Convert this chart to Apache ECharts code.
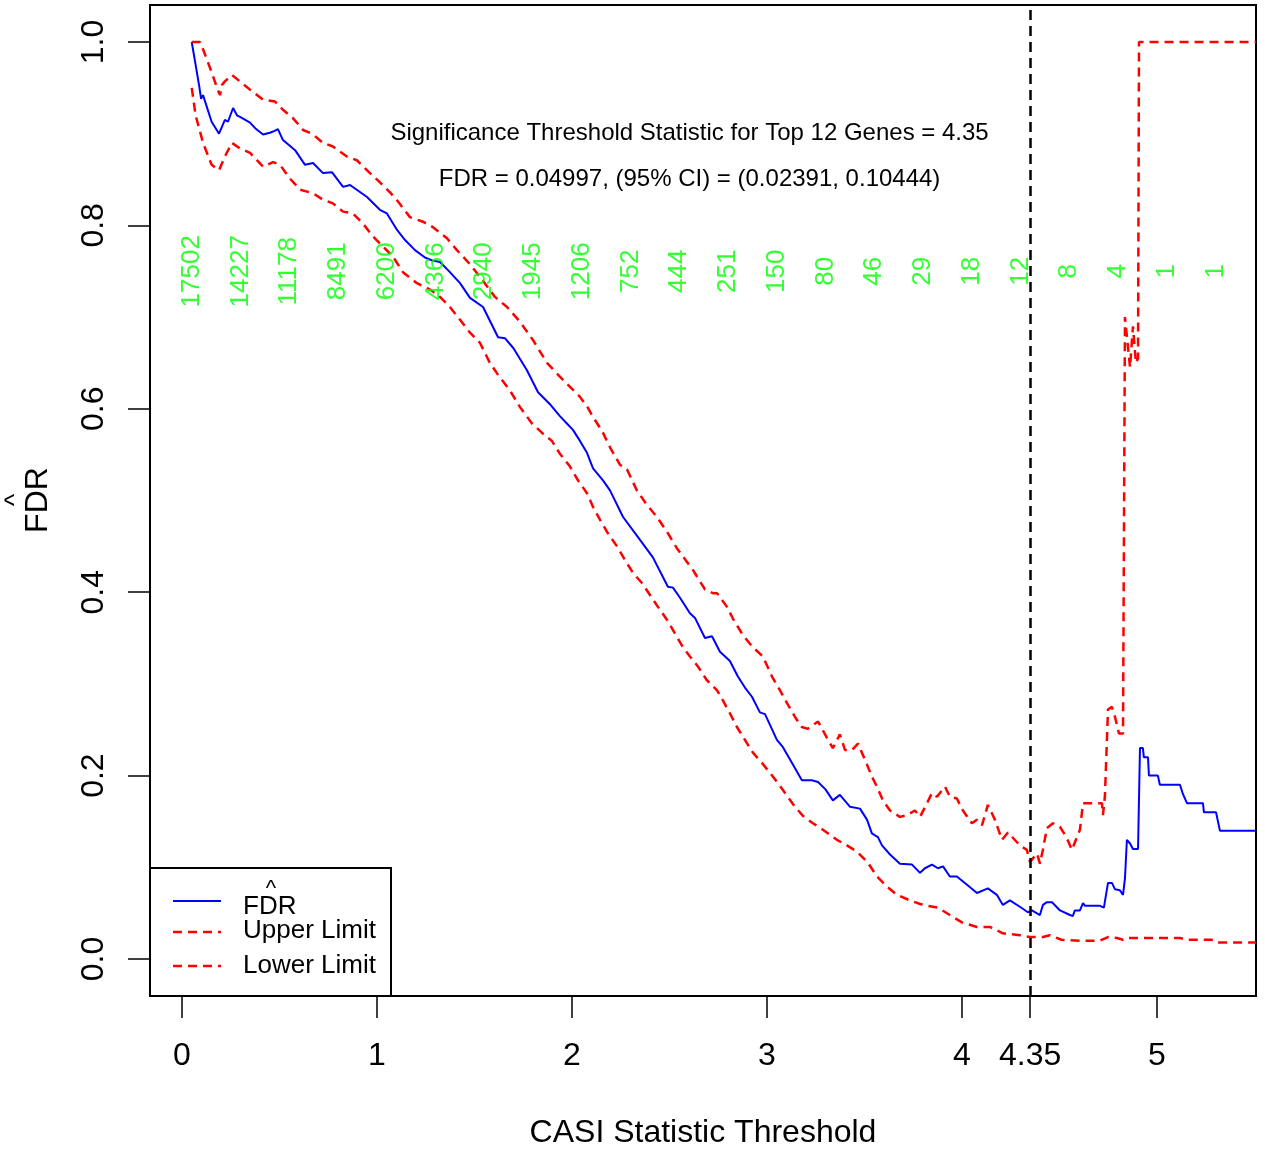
<!DOCTYPE html>
<html>
<head>
<meta charset="utf-8">
<script src="https://cdn.jsdelivr.net/npm/echarts@6/dist/echarts.min.js"></script>
<style>html,body{margin:0;padding:0;background:#fff}#c{width:1265px;height:1151px}</style>
</head>
<body>
<div id="c"></div>
<script>
// ---- data ----
const fdrX = [0.05,0.07,0.089,0.098,0.108,0.152,0.19,0.22,0.236,0.262,0.282,0.30,0.349,0.38,0.416,0.451,0.475,0.492,0.518,0.58,0.631,0.672,0.723,0.769,0.826,0.862,0.949,1.015,1.051,1.103,1.144,1.195,1.246,1.28,1.323,1.374,1.426,1.477,1.544,1.621,1.656,1.70,1.769,1.826,1.887,1.938,1.974,2.005,2.041,2.077,2.108,2.159,2.195,2.262,2.349,2.415,2.492,2.518,2.554,2.605,2.631,2.682,2.718,2.759,2.810,2.851,2.887,2.923,2.964,2.990,3.051,3.082,3.133,3.179,3.23,3.262,3.30,3.338,3.374,3.41,3.426,3.477,3.513,3.538,3.569,3.59,3.631,3.682,3.744,3.785,3.81,3.846,3.877,3.903,3.938,3.974,4.026,4.077,4.133,4.179,4.21,4.246,4.297,4.338,4.359,4.40,4.415,4.436,4.462,4.503,4.554,4.569,4.579,4.605,4.621,4.631,4.708,4.728,4.749,4.769,4.785,4.810,4.826,4.836,4.846,4.862,4.877,4.903,4.913,4.928,4.933,4.954,4.959,5.005,5.015,5.118,5.133,5.154,5.236,5.241,5.303,5.323,5.508];
const fdrY = [1.000,0.975,0.951,0.938,0.942,0.913,0.900,0.915,0.913,0.928,0.920,0.918,0.912,0.905,0.899,0.901,0.903,0.905,0.893,0.882,0.866,0.868,0.857,0.858,0.842,0.844,0.831,0.817,0.813,0.795,0.784,0.773,0.765,0.762,0.760,0.749,0.737,0.721,0.711,0.678,0.677,0.666,0.642,0.618,0.605,0.592,0.584,0.577,0.565,0.552,0.535,0.522,0.511,0.482,0.457,0.438,0.406,0.405,0.394,0.377,0.372,0.350,0.352,0.335,0.325,0.308,0.296,0.286,0.269,0.267,0.239,0.231,0.212,0.195,0.195,0.193,0.185,0.173,0.179,0.170,0.166,0.164,0.152,0.137,0.133,0.124,0.114,0.104,0.103,0.094,0.099,0.103,0.099,0.101,0.090,0.090,0.081,0.072,0.077,0.070,0.059,0.064,0.057,0.051,0.053,0.048,0.059,0.062,0.062,0.053,0.048,0.047,0.053,0.053,0.061,0.058,0.058,0.056,0.083,0.083,0.076,0.075,0.070,0.088,0.130,0.126,0.120,0.120,0.230,0.230,0.220,0.220,0.200,0.200,0.190,0.190,0.180,0.170,0.170,0.160,0.160,0.140,0.140];

const upperX = [0.05,0.092,0.11,0.152,0.18,0.195,0.205,0.22,0.256,0.297,0.349,0.416,0.477,0.518,0.569,0.621,0.667,0.723,0.774,0.846,0.897,0.964,1.015,1.067,1.108,1.169,1.236,1.287,1.359,1.41,1.467,1.528,1.605,1.667,1.733,1.8,1.872,1.938,1.99,2.041,2.082,2.108,2.154,2.195,2.246,2.282,2.333,2.385,2.436,2.487,2.538,2.590,2.621,2.682,2.723,2.744,2.795,2.826,2.877,2.928,2.979,3.026,3.067,3.103,3.144,3.179,3.21,3.262,3.308,3.338,3.374,3.40,3.436,3.467,3.477,3.513,3.538,3.564,3.595,3.631,3.682,3.718,3.759,3.785,3.821,3.846,3.872,3.913,3.938,3.974,4.005,4.051,4.077,4.103,4.133,4.169,4.205,4.236,4.262,4.297,4.333,4.349,4.385,4.40,4.415,4.436,4.467,4.503,4.538,4.564,4.59,4.605,4.621,4.718,4.723,4.733,4.749,4.769,4.785,4.805,4.826,4.836,4.862,4.877,4.892,4.903,4.908,5.508];
const upperY = [1.0,1.0,0.991,0.967,0.950,0.942,0.953,0.957,0.964,0.957,0.948,0.937,0.935,0.926,0.917,0.904,0.900,0.890,0.886,0.875,0.871,0.857,0.847,0.836,0.826,0.809,0.804,0.798,0.786,0.773,0.760,0.744,0.722,0.711,0.695,0.675,0.650,0.635,0.624,0.613,0.601,0.591,0.576,0.558,0.539,0.534,0.511,0.495,0.482,0.466,0.448,0.433,0.424,0.403,0.399,0.399,0.384,0.371,0.353,0.340,0.330,0.308,0.293,0.279,0.264,0.253,0.251,0.259,0.241,0.230,0.245,0.228,0.228,0.235,0.233,0.212,0.199,0.188,0.173,0.162,0.155,0.157,0.162,0.155,0.170,0.181,0.177,0.188,0.177,0.175,0.162,0.148,0.152,0.146,0.168,0.152,0.130,0.138,0.132,0.124,0.119,0.106,0.115,0.104,0.119,0.143,0.148,0.144,0.132,0.119,0.133,0.141,0.170,0.170,0.157,0.177,0.272,0.275,0.264,0.246,0.246,0.700,0.645,0.690,0.650,0.655,1.0,1.0];

const lowerX = [0.05,0.07,0.108,0.152,0.19,0.22,0.256,0.297,0.349,0.416,0.467,0.503,0.554,0.605,0.672,0.723,0.774,0.826,0.877,0.928,0.979,1.031,1.082,1.133,1.205,1.272,1.323,1.374,1.426,1.477,1.528,1.579,1.621,1.682,1.733,1.795,1.851,1.897,1.938,1.99,2.031,2.077,2.108,2.144,2.185,2.231,2.272,2.313,2.359,2.4,2.441,2.487,2.528,2.569,2.605,2.646,2.692,2.744,2.774,2.810,2.846,2.887,2.928,2.974,3.015,3.056,3.103,3.144,3.185,3.236,3.287,3.359,3.41,3.462,3.518,3.564,3.615,3.667,3.733,3.8,3.877,3.938,4.0,4.077,4.144,4.21,4.297,4.349,4.415,4.451,4.51,4.605,4.708,4.749,4.795,4.826,4.846,5.118,5.154,5.287,5.313,5.508];
const lowerY = [0.950,0.920,0.890,0.866,0.860,0.875,0.890,0.884,0.879,0.864,0.869,0.866,0.851,0.839,0.835,0.828,0.824,0.815,0.813,0.802,0.788,0.777,0.766,0.749,0.737,0.730,0.722,0.711,0.697,0.683,0.672,0.650,0.637,0.620,0.602,0.584,0.573,0.565,0.551,0.537,0.522,0.508,0.493,0.479,0.464,0.450,0.435,0.421,0.410,0.397,0.384,0.370,0.355,0.340,0.330,0.319,0.304,0.293,0.282,0.268,0.253,0.239,0.225,0.214,0.203,0.192,0.178,0.166,0.156,0.148,0.141,0.130,0.124,0.117,0.105,0.090,0.079,0.070,0.064,0.059,0.056,0.048,0.040,0.035,0.035,0.028,0.026,0.024,0.024,0.026,0.021,0.020,0.020,0.024,0.023,0.021,0.023,0.023,0.021,0.021,0.018,0.018];

const countX = [0.05,0.30,0.55,0.80,1.05,1.30,1.55,1.80,2.05,2.30,2.55,2.80,3.05,3.30,3.55,3.80,4.05,4.30,4.55,4.80,5.05,5.30];
const countLabels = ['17502','14227','11178','8491','6200','4366','2940','1945','1206','752','444','251','150','80','46','29','18','12','8','4','1','1'];
const countY = 0.75;

const xTicks = [0,1,2,3,4,4.35,5];
const yTicks = [0,0.2,0.4,0.6,0.8,1.0];
const threshold = 4.35;
const annot1 = 'Significance Threshold Statistic for Top 12 Genes = 4.35';
const annot2 = 'FDR = 0.04997, (95% CI) = (0.02391, 0.10444)';

// ---- chart ----
const FONT = '"Liberation Sans", Arial, Helvetica, sans-serif';
const chart = echarts.init(document.getElementById('c'), null, {renderer:'canvas'});
const zip = (xs, ys) => xs.map((x, i) => [x, ys[i]]);
const dashed = [9, 6];

const option = {
  backgroundColor: '#fff',
  animation: false,
  textStyle: {fontFamily: FONT},
  grid: {left:150, right:9, top:5, bottom:155, show:true, borderColor:'#000', borderWidth:2, backgroundColor:'transparent',
         containLabel:false, outerBoundsMode:'none'},
  xAxis: {
    type:'value', min:-0.164, max:5.508,
    axisLine:{show:false, onZero:false},
    splitLine:{show:false},
    axisTick:{show:true, customValues:xTicks, length:22, lineStyle:{color:'#000', width:1.5}},
    axisLabel:{customValues:xTicks, fontSize:32, color:'#000', margin:44, fontFamily:FONT,
      formatter: v => (Math.abs(v-4.35)<1e-9 ? '4.35' : String(Math.round(v)))},
    name:'CASI Statistic Threshold', nameLocation:'middle', nameGap:121,
    nameTextStyle:{fontSize:32, color:'#000', fontFamily:FONT}
  },
  yAxis: {
    type:'value', min:-0.0403, max:1.0403,
    axisLine:{show:false, onZero:false},
    splitLine:{show:false},
    axisTick:{show:true, customValues:yTicks, length:22, lineStyle:{color:'#000', width:1.5}},
    axisLabel:{customValues:yTicks, fontSize:32, color:'#000', margin:40, rotate:90, fontFamily:FONT,
      formatter: v => v.toFixed(1)}
  },
  series: [
    {type:'line', name:'FDR', data:zip(fdrX, fdrY), showSymbol:false, symbol:'none', clip:true,
     lineStyle:{color:'#0000ff', width:2}, z:3},
    {type:'line', name:'Upper Limit', data:zip(upperX, upperY), showSymbol:false, symbol:'none', clip:true,
     lineStyle:{color:'#ff0000', width:2.5, type:dashed}, z:3},
    {type:'line', name:'Lower Limit', data:zip(lowerX, lowerY), showSymbol:false, symbol:'none', clip:true,
     lineStyle:{color:'#ff0000', width:2.5, type:dashed}, z:3,
     markLine:{symbol:'none', silent:true, label:{show:false},
       lineStyle:{color:'#000', width:2.5, type:[10,6]}, data:[{xAxis:threshold}]}},
    {type:'scatter', name:'counts', data:countX.map(x => [x, countY]), symbolSize:0, z:4,
     label:{show:true, position:'inside', rotate:90, color:'#00ff00', fontSize:26, fontFamily:FONT,
       formatter: p => countLabels[p.dataIndex]}}
  ]
};
chart.setOption(option);

const p1 = chart.convertToPixel({gridIndex:0}, [2.603, 0.900]);
const p2 = chart.convertToPixel({gridIndex:0}, [2.603, 0.850]);

chart.setOption({
  graphic: [
    {type:'text', x:p1[0], y:p1[1], style:{text:annot1, fontSize:24, fontFamily:FONT, fill:'#000', align:'center', verticalAlign:'middle'}, z:10},
    {type:'text', x:p2[0], y:p2[1], style:{text:annot2, fontSize:24, fontFamily:FONT, fill:'#000', align:'center', verticalAlign:'middle'}, z:10},
    // y axis title with hat
    {type:'text', x:38, y:500, rotation:Math.PI/2, style:{text:'FDR', fontSize:32, fontFamily:FONT, fill:'#000', align:'center', verticalAlign:'middle'}},
    {type:'text', x:16, y:500, rotation:Math.PI/2, style:{text:'^', fontSize:26, fontFamily:FONT, fill:'#000', align:'center', verticalAlign:'middle'}},
    // legend
    {type:'rect', shape:{x:150, y:868, width:241, height:128}, style:{fill:'#fff', stroke:'#000', lineWidth:2}, z:20},
    {type:'line', shape:{x1:173, y1:901, x2:221, y2:901}, style:{stroke:'#0000ff', lineWidth:2}, z:21},
    {type:'line', shape:{x1:173, y1:932, x2:221, y2:932}, style:{stroke:'#ff0000', lineWidth:2.5, lineDash:[9,6]}, z:21},
    {type:'line', shape:{x1:173, y1:966, x2:221, y2:966}, style:{stroke:'#ff0000', lineWidth:2.5, lineDash:[9,6]}, z:21},
    {type:'text', x:243, y:907, style:{text:'FDR', fontSize:26, fontFamily:FONT, fill:'#000', align:'left', verticalAlign:'middle'}, z:21},
    {type:'text', x:271, y:889, style:{text:'^', fontSize:22, fontFamily:FONT, fill:'#000', align:'center', verticalAlign:'middle'}, z:21},
    {type:'text', x:243, y:931, style:{text:'Upper Limit', fontSize:26, fontFamily:FONT, fill:'#000', align:'left', verticalAlign:'middle'}, z:21},
    {type:'text', x:243, y:966, style:{text:'Lower Limit', fontSize:26, fontFamily:FONT, fill:'#000', align:'left', verticalAlign:'middle'}, z:21}
  ]
});
</script>
</body>
</html>
